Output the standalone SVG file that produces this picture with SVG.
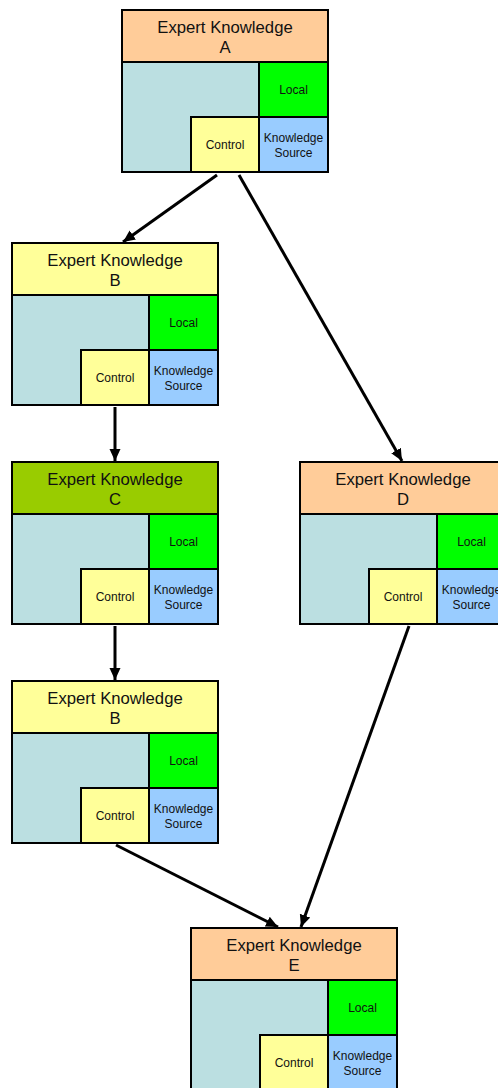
<svg xmlns="http://www.w3.org/2000/svg" width="498" height="1088" viewBox="0 0 498 1088">
  <style>
    rect { stroke: #000; stroke-width: 2; }
    .hdr-orange { fill: #FFCC99; }
    .hdr-yellow { fill: #FFFF99; }
    .hdr-green { fill: #99CC00; }
    .body { fill: #BBDFE1; }
    .local { fill: #00FF00; }
    .ctrl { fill: #FFFF99; }
    .ks { fill: #99CCFF; }
    text { font-family: "Liberation Sans", Arial, sans-serif; fill: #111; text-anchor: middle; }
    .title { font-size: 16.7px; }
    .small { font-size: 12px; }
    .edge { stroke: #000; stroke-width: 3; fill: none; marker-end: url(#arrow); }
  </style>
  <defs>
    <marker id="arrow" markerUnits="userSpaceOnUse" markerWidth="14" markerHeight="14" viewBox="0 0 14 14" refX="12" refY="7" orient="auto">
      <path d="M0,1.5 L12,7 L0,12.5 Z" fill="#000"/>
    </marker>
    <!-- shared body of a knowledge node: background, Local, Control, Knowledge Source -->
    <g id="nodeBody">
      <rect class="body" x="0" y="52" width="206" height="110"/>
      <rect class="local" x="137" y="52" width="69" height="55"/>
      <rect class="ctrl" x="69" y="107" width="68" height="55"/>
      <rect class="ks" x="137" y="107" width="69" height="55"/>
      <text class="small" x="171.5" y="84">Local</text>
      <text class="small" x="103" y="138.5">Control</text>
      <text class="small" x="171.5" y="131.5">Knowledge</text>
      <text class="small" x="171.5" y="146.5">Source</text>
    </g>
  </defs>

  <g id="connectors">
    <line class="edge" x1="217" y1="175" x2="123" y2="242"/>
    <line class="edge" x1="239" y1="175" x2="402" y2="461"/>
    <line class="edge" x1="115" y1="407" x2="115" y2="461"/>
    <line class="edge" x1="115" y1="626" x2="115" y2="680"/>
    <line class="edge" x1="409" y1="626" x2="301" y2="927"/>
    <line class="edge" x1="116" y1="845" x2="278" y2="927"/>
  </g>

  <g id="node-A" transform="translate(122,10)">
    <rect class="hdr-orange" x="0" y="0" width="206" height="52"/>
    <text class="title" x="103" y="22.5">Expert Knowledge</text>
    <text class="title" x="103" y="43">A</text>
    <use href="#nodeBody"/>
  </g>

  <g id="node-B" transform="translate(12,243)">
    <rect class="hdr-yellow" x="0" y="0" width="206" height="52"/>
    <text class="title" x="103" y="22.5">Expert Knowledge</text>
    <text class="title" x="103" y="43">B</text>
    <use href="#nodeBody"/>
  </g>

  <g id="node-C" transform="translate(12,462)">
    <rect class="hdr-green" x="0" y="0" width="206" height="52"/>
    <text class="title" x="103" y="22.5">Expert Knowledge</text>
    <text class="title" x="103" y="43">C</text>
    <use href="#nodeBody"/>
  </g>

  <g id="node-D" transform="translate(300,462)">
    <rect class="hdr-orange" x="0" y="0" width="206" height="52"/>
    <text class="title" x="103" y="22.5">Expert Knowledge</text>
    <text class="title" x="103" y="43">D</text>
    <use href="#nodeBody"/>
  </g>

  <g id="node-B2" transform="translate(12,681)">
    <rect class="hdr-yellow" x="0" y="0" width="206" height="52"/>
    <text class="title" x="103" y="22.5">Expert Knowledge</text>
    <text class="title" x="103" y="43">B</text>
    <use href="#nodeBody"/>
  </g>

  <g id="node-E" transform="translate(191,928)">
    <rect class="hdr-orange" x="0" y="0" width="206" height="52"/>
    <text class="title" x="103" y="22.5">Expert Knowledge</text>
    <text class="title" x="103" y="43">E</text>
    <use href="#nodeBody"/>
  </g>
</svg>
